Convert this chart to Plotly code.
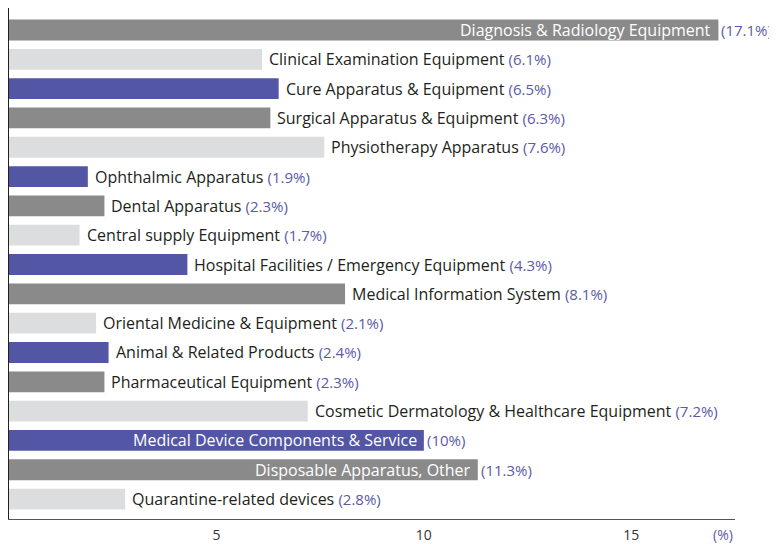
import plotly.graph_objects as go

categories = [
    "Diagnosis & Radiology Equipment",
    "Clinical Examination Equipment",
    "Cure Apparatus & Equipment",
    "Surgical Apparatus & Equipment",
    "Physiotherapy Apparatus",
    "Ophthalmic Apparatus",
    "Dental Apparatus",
    "Central supply Equipment",
    "Hospital Facilities / Emergency Equipment",
    "Medical Information System",
    "Oriental Medicine & Equipment",
    "Animal & Related Products",
    "Pharmaceutical Equipment",
    "Cosmetic Dermatology & Healthcare Equipment",
    "Medical Device Components & Service",
    "Disposable Apparatus, Other",
    "Quarantine-related devices",
]
shares = [17.1, 6.1, 6.5, 6.3, 7.6, 1.9, 2.3, 1.7, 4.3, 8.1, 2.1, 2.4, 2.3, 7.2, 10, 11.3, 2.8]
share_labels = ["(17.1%)", "(6.1%)", "(6.5%)", "(6.3%)", "(7.6%)", "(1.9%)", "(2.3%)", "(1.7%)",
                "(4.3%)", "(8.1%)", "(2.1%)", "(2.4%)", "(2.3%)", "(7.2%)", "(10%)", "(11.3%)", "(2.8%)"]
tick_vals = [5, 10, 15]

DARK = "#8a8a8a"
LIGHT = "#dcdddf"
BLUE = "#5355a5"
PCT = "#5a5aa8"
TXT = "#231f20"
palette = [DARK, LIGHT, BLUE]
colors = [palette[i % 3] for i in range(len(categories))]
FONT = "Open Sans"
FS = 16
FS_PCT = 15

fig = go.Figure()
fig.add_trace(go.Bar(
    x=shares, y=list(range(len(categories))), orientation="h",
    marker=dict(color=colors, line=dict(width=0)),
    hoverinfo="skip",
))

annotations = []
for i, (name, v, lab) in enumerate(zip(categories, shares, share_labels)):
    if v >= 10:
        annotations.append(dict(x=v, y=i, xref="x", yref="y", text=name, showarrow=False,
                                xanchor="right", xshift=-5, font=dict(family=FONT, size=FS, color="white")))
        annotations.append(dict(x=v, y=i, xref="x", yref="y", text=lab, showarrow=False,
                                xanchor="left", xshift=1, font=dict(family=FONT, size=FS_PCT, color=PCT)))
    else:
        annotations.append(dict(x=v, y=i, xref="x", yref="y",
                                text=f"{name} <span style='color:{PCT};font-size:{FS_PCT}px'>{lab}</span>",
                                showarrow=False, xanchor="left", xshift=5,
                                font=dict(family=FONT, size=FS, color=TXT)))
annotations.append(dict(x=1, y=0, xref="paper", yref="paper", text="(%)", showarrow=False,
                        xanchor="right", yanchor="middle", yshift=-15,
                        font=dict(family=FONT, size=14, color=PCT)))

fig.update_layout(
    width=769, height=536,
    margin=dict(l=1, r=42, t=0, b=23),
    plot_bgcolor="white", paper_bgcolor="white",
    bargap=0.29, showlegend=False,
    annotations=annotations,
    xaxis=dict(range=[0, 17.5], tickvals=tick_vals, showgrid=False, zeroline=False,
               showline=True, linecolor="#555555", linewidth=1, ticks="",
               ticklabelstandoff=3,
               tickfont=dict(family=FONT, size=14, color="#333333")),
    yaxis=dict(range=[16.68, -0.75], showticklabels=False, showgrid=False, zeroline=False,
               showline=True, linecolor=TXT, linewidth=1.5, ticks=""),
)
fig.write_html("out.html")
